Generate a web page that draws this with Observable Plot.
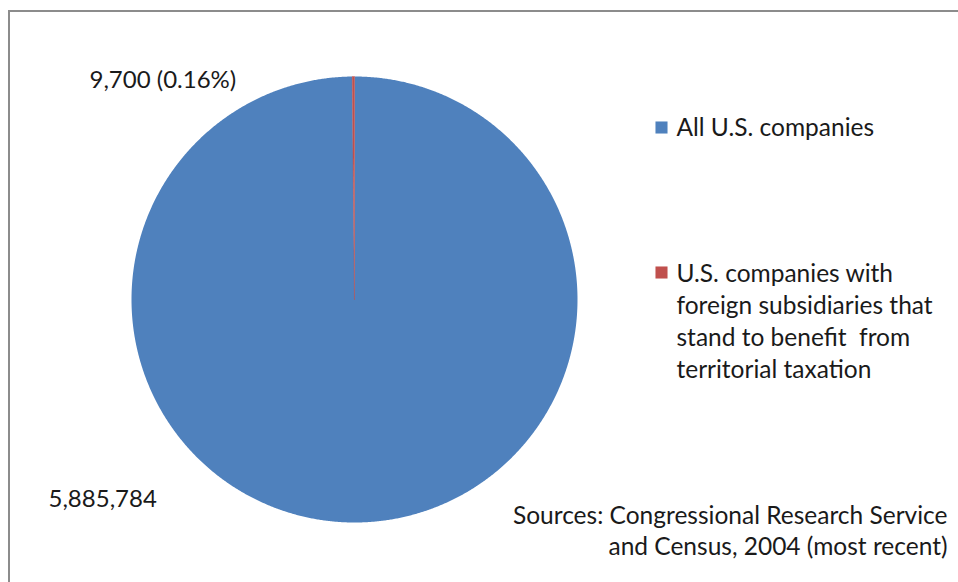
<!DOCTYPE html>
<html>
<head>
<meta charset="utf-8">
<script src="https://cdn.jsdelivr.net/npm/d3@7"></script>
<script src="https://cdn.jsdelivr.net/npm/@observablehq/plot@0.6"></script>
<style>
  html, body { margin: 0; padding: 0; background: #fff; }
  #wrap { position: relative; width: 958px; height: 582px; overflow: hidden; background: #fff; }
  #frame { position: absolute; left: 8px; top: 10px; width: 1000px; height: 1000px; border: 2px solid #8c8c8c; pointer-events: none; }
  #chart { position: absolute; left: 0; top: 0; }
</style>
</head>
<body>
<div id="wrap"><div id="chart"></div><div id="frame"></div></div>
<script>
const categories = ["All U.S. companies", "U.S. companies with foreign subsidiaries that stand to benefit from territorial taxation"];
const values = [5885784, 9700];
const colors = ["#4F81BD", "#C0504D"];
const valueLabels = ["5,885,784", "9,700 (0.16%)"];
const legendLabels = ["All U.S. companies", "U.S. companies with\nforeign subsidiaries that\nstand to benefit  from\nterritorial taxation"];
const sourceNote = "Sources: Congressional Research Service\nand Census, 2004 (most recent)";

// pie geometry from the values (clockwise from 12 o'clock)
const arcs = d3.pie().sort(null)(values);
const pts = [];
arcs.forEach((a, i) => {
  const span = a.endAngle - a.startAngle;
  const n = Math.max(2, Math.ceil(span / 0.005));
  pts.push({cat: categories[i], x: 0, y: 0});
  for (let k = 0; k <= n; k++) {
    const t = a.startAngle + span * k / n;
    pts.push({cat: categories[i], x: Math.sin(t), y: Math.cos(t)});
  }
  pts.push({cat: categories[i], x: 0, y: 0});
});

const font = "Lato, 'Open Sans', sans-serif";
const ink = "#1a1a1a";
const plot = Plot.plot({
  width: 958,
  height: 582,
  marginLeft: 131,
  marginRight: 381,
  marginTop: 76,
  marginBottom: 60,
  x: {domain: [-1, 1], axis: null},
  y: {domain: [-1, 1], axis: null},
  color: {domain: categories, range: colors},
  style: {fontFamily: font, background: "transparent", color: ink},
  marks: [
    Plot.line(pts, {x: "x", y: "y", z: "cat", fill: "cat", stroke: "none"}),
    Plot.line(pts.filter(d => d.cat === categories[1]), {x: "x", y: "y", stroke: colors[1], strokeWidth: 0.6, strokeOpacity: 0.7}),
    // data labels
    Plot.text([valueLabels[1]], {text: d => d, frameAnchor: "top-left", dx: -42, dy: 4, textAnchor: "start", lineAnchor: "middle", fontSize: 24, fill: ink}),
    Plot.text([valueLabels[0]], {text: d => d, frameAnchor: "top-left", dx: -83, dy: 423, textAnchor: "start", lineAnchor: "middle", fontSize: 24, fill: ink}),
    // legend swatches
    Plot.dot([categories[0]], {fill: d => d, symbol: "square", r: 6.8, frameAnchor: "top-left", dx: 530, dy: 51}),
    Plot.dot([categories[1]], {fill: d => d, symbol: "square", r: 6.8, frameAnchor: "top-left", dx: 530, dy: 196}),
    // legend labels
    Plot.text([legendLabels[0]], {text: d => d, frameAnchor: "top-left", dx: 545, dy: 52, textAnchor: "start", lineAnchor: "middle", fontSize: 24.5, fill: ink}),
    Plot.text([legendLabels[1]], {text: d => d, frameAnchor: "top-left", dx: 545, dy: 243, textAnchor: "start", lineAnchor: "middle", lineHeight: 1.31, fontSize: 24.5, fill: ink}),
    // source note
    Plot.text([sourceNote], {text: d => d, frameAnchor: "top-left", dx: 816, dy: 453, textAnchor: "end", lineAnchor: "middle", lineHeight: 1.27, fontSize: 24.5, fill: ink})
  ]
});
document.getElementById("chart").appendChild(plot);
</script>
</body>
</html>
